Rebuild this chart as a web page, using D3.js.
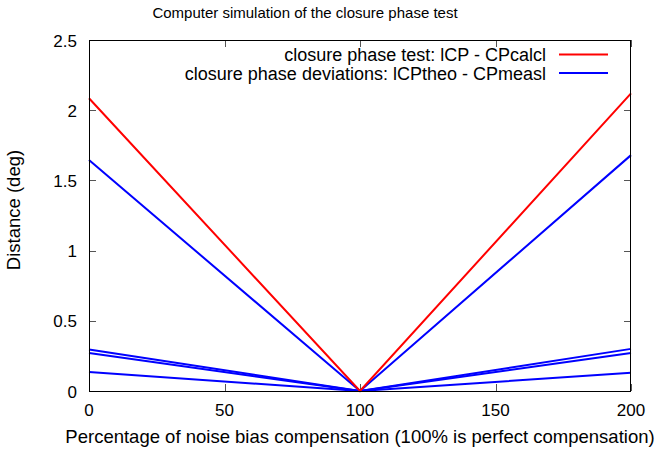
<!DOCTYPE html>
<html><head><meta charset="utf-8">
<script src="https://cdn.jsdelivr.net/npm/d3@7"></script>
<style>body{margin:0;background:#fff}svg{display:block}text{font-family:"Liberation Sans",Arial,sans-serif;fill:#000}</style>
</head><body>
<svg id="c" width="656" height="454"></svg>
<script>
const xValues = [0, 100, 200];
const redSeries = [2.085, 0, 2.12];
const blueSeries1 = [1.645, 0, 1.68];
const blueSeries2 = [0.295, 0, 0.30];
const blueSeries3 = [0.27, 0, 0.27];
const blueSeries4 = [0.135, 0, 0.13];
const xTicks = [0, 50, 100, 150, 200];
const yTicks = [0, 0.5, 1, 1.5, 2, 2.5];
const yTickLabels = ["0", "0.5", "1", "1.5", "2", "2.5"];
const legendLabels = ["closure phase test: lCP - CPcalcl", "closure phase deviations: lCPtheo - CPmeasl"];
const titleText = "Computer simulation of the closure phase test";
const xLabel = "Percentage of noise bias compensation (100% is perfect compensation)";
const yLabel = "Distance (deg)";

const svg = d3.select("#c");
const L = 89, R = 631, T = 40, B = 391;
const x = d3.scaleLinear().domain([0, 200]).range([L, R]);
const y = d3.scaleLinear().domain([0, 2.5]).range([B, T]);
const tickFs = 17, labFs = 18.5, legFs = 18, titleFs = 15;

// ticks (inward, mirrored)
const tk = svg.append("g").attr("stroke", "#555").attr("stroke-width", 1);
xTicks.forEach(v => {
  const px = Math.round(x(v)) + 0.5;
  tk.append("line").attr("x1", px).attr("x2", px).attr("y1", B).attr("y2", B - 7);
  tk.append("line").attr("x1", px).attr("x2", px).attr("y1", T).attr("y2", T + 7);
});
yTicks.forEach(v => {
  const py = Math.round(y(v)) + 0.5;
  tk.append("line").attr("x1", L).attr("x2", L + 7).attr("y1", py).attr("y2", py);
  tk.append("line").attr("x1", R).attr("x2", R - 7).attr("y1", py).attr("y2", py);
});

// tick labels
xTicks.forEach(v => {
  svg.append("text").attr("x", x(v)).attr("y", 416).attr("text-anchor", "middle")
    .attr("font-size", tickFs).text(String(v));
});
yTicks.forEach((v, i) => {
  svg.append("text").attr("x", 77).attr("y", y(v) + 6.5).attr("text-anchor", "end")
    .attr("font-size", tickFs).text(yTickLabels[i]);
});

// lines
const line = d3.line().x((d, i) => x(xValues[i])).y(d => y(d));
const series = [
  {d: blueSeries4, c: "#0000ff"},
  {d: blueSeries3, c: "#0000ff"},
  {d: blueSeries2, c: "#0000ff"},
  {d: blueSeries1, c: "#0000ff"},
  {d: redSeries, c: "#ff0000"}
];
series.forEach(s => {
  svg.append("path").attr("d", line(s.d)).attr("fill", "none")
    .attr("stroke", s.c).attr("stroke-width", 2);
});

// border
svg.append("rect").attr("x", L + 0.5).attr("y", T + 0.5).attr("width", R - L - 1).attr("height", B - T)
  .attr("fill", "none").attr("stroke", "#000").attr("stroke-width", 1);

// legend
const legColors = ["#ff0000", "#0000ff"];
legendLabels.forEach((t, i) => {
  const cy = 54.5 + i * 18.5;
  svg.append("text").attr("x", 546).attr("y", cy + 6.5).attr("text-anchor", "end")
    .attr("font-size", legFs).text(t);
  svg.append("line").attr("x1", 559).attr("x2", 608).attr("y1", cy).attr("y2", cy)
    .attr("stroke", legColors[i]).attr("stroke-width", 2);
});

// title & labels
svg.append("text").attr("x", 305).attr("y", 18).attr("text-anchor", "middle")
  .attr("font-size", titleFs).text(titleText);
svg.append("text").attr("x", 360).attr("y", 443).attr("text-anchor", "middle")
  .attr("font-size", labFs).text(xLabel);
svg.append("text").attr("transform", "translate(20,210) rotate(-90)").attr("text-anchor", "middle")
  .attr("font-size", labFs).text(yLabel);
</script>
</body></html>
